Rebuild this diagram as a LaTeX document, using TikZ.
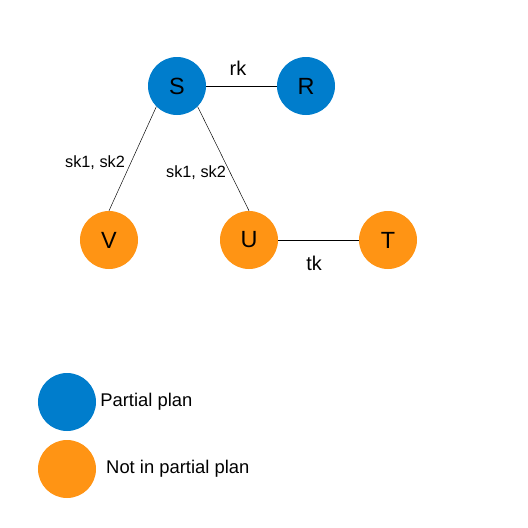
\documentclass[tikz,border=0pt]{standalone}
\usepackage{fontspec}
\setmainfont{Liberation Sans}
\usetikzlibrary{positioning}

\definecolor{planblue}{RGB}{0,125,204}
\definecolor{restorange}{RGB}{255,148,20}

\begin{document}
\begin{tikzpicture}[
x=0.03cm, y=-0.03cm,
font=\fontsize{17}{20}\selectfont,
state/.style={
circle,
inner sep=0pt,
minimum size=1.74cm,
fill=#1,
font=\fontsize{20}{24}\selectfont
},
link/.style={draw, thin},
lab/.style={font=\fontsize{13.9}{16}\selectfont},
legend/.style={font=\fontsize{15.7}{18}\selectfont, anchor=west}
]
\useasboundingbox (0,0) rectangle (528,528);

% Nodes
\node[state=planblue] (S) at (177,86) {S};
\node[state=planblue] (R) at (306,86) {R};
\node[state=restorange] (V) at (109,240) {V};
\node[state=restorange] (U) at (249,240) {U};
\node[state=restorange] (T) at (388,240) {T};

% Edges
\draw[link] (S) -- (R);
\draw[link] (S.south west) -- (V.north);
\draw[link] (S.south east) -- (U.north);
\draw[link] (U) -- (T);

% Edge labels
\node (rk) at (238,68) {rk};
\node[lab] (skV) at (95,163) {sk1, sk2};
\node[lab] (skU) at (196,173) {sk1, sk2};
\node (tk) at (314,263) {tk};

% Legend
\node[state=planblue] (keyplan) at (67,402) {};
\node[legend, right=0pt of keyplan] (keyplantext) {Partial plan};
\node[state=restorange] (keyrest) at (67,469) {};
\node[legend, right=5pt of keyrest] (keyresttext) {Not in partial plan};

\end{tikzpicture}
\end{document}
